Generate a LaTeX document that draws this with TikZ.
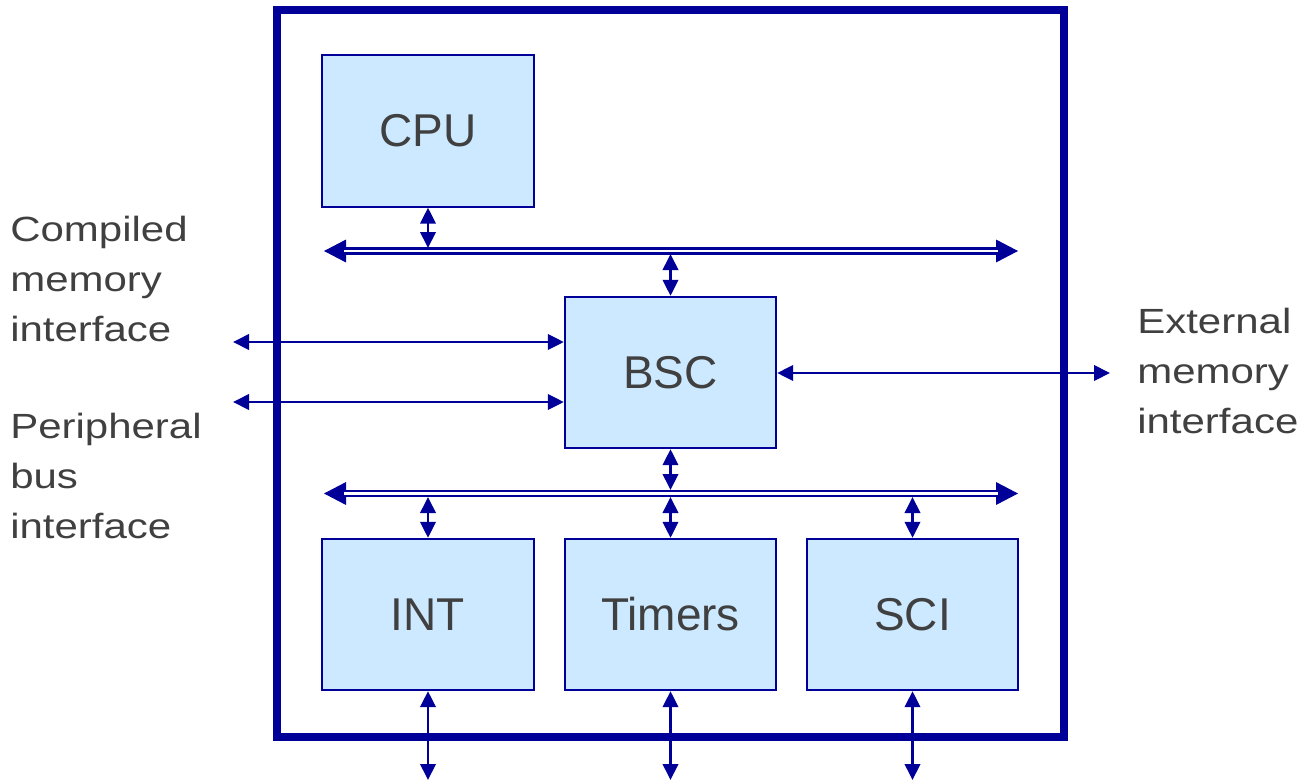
\documentclass[tikz,border=0pt]{standalone}
\usepackage{fontspec}
\usepackage{graphicx}
\setmainfont{Liberation Sans}
\usetikzlibrary{arrows.meta}
\definecolor{navy}{HTML}{000099}
\definecolor{boxfill}{HTML}{CCE9FF}
\definecolor{txt}{HTML}{404040}
\newcommand{\wide}[1]{\scalebox{1.2}[1]{#1}}
\tikzset{
  block/.style={draw=navy, line width=1.5pt, fill=boxfill, text=txt,
    minimum width=158.5pt, minimum height=113.5pt, inner sep=0pt,
    font=\fontsize{34.5pt}{40pt}\selectfont},
  small/.style={navy, line width=2pt,
    {Triangle[length=12pt,width=11.5pt]}-{Triangle[length=12pt,width=11.5pt]}},
  bustip/.style={navy, line width=0.8pt,
    {Triangle[length=16.5pt,width=17pt]}-{Triangle[length=16.5pt,width=17pt]}},
  busline/.style={navy, line width=2pt, double=white, double distance=1.6pt,
    shorten <=15pt, shorten >=15pt},
  side/.style={text=txt, anchor=north west, inner sep=0pt, align=left,
    font=\fontsize{26.25pt}{37.5pt}\selectfont},
  frame/.style={navy, line width=6pt}
}
\begin{document}
\begin{tikzpicture}[x=0.75pt, y=-0.75pt]
\useasboundingbox (0,0) rectangle (1316,782);
% outer frame
\draw[frame] (277,10) rectangle (1064,737);
% blocks
\node[block] (cpu) at (428,131) {CPU};
\node[block] (bsc) at (670.5,372.5) {BSC};
\node[block] (int) at (428,614.5) {INT};
\node[block] (tim) at (670.5,614.5) {Timers};
\node[block] (sci) at (912.5,614.5) {SCI};
% bus coordinates
\coordinate (b1w) at (324,251);
\coordinate (b1e) at (1018,251);
\coordinate (b2w) at (324,493.5);
\coordinate (b2e) at (1018,493.5);
% buses
\draw[bustip] (b1w) -- (b1e);
\draw[busline] (b1w) -- (b1e);
\draw[bustip] (b2w) -- (b2e);
\draw[busline] (b2w) -- (b2e);
% bus taps
\coordinate (b1cpu) at (428,248);
\coordinate (b1bsc) at (670.5,254);
\coordinate (b2bsc) at (670.5,490);
\coordinate (b2int) at (428,497);
\coordinate (b2tim) at (670.5,497);
\coordinate (b2sci) at (912.5,497);
\draw[small] (cpu.south) -- (b1cpu);
\draw[small] (b1bsc) -- (bsc.north);
\draw[small] (bsc.south) -- (b2bsc);
\draw[small] (b2int) -- (int.north);
\draw[small] (b2tim) -- (tim.north);
\draw[small] (b2sci) -- (sci.north);
% external connections
\coordinate (cmi) at (233,342);
\coordinate (pbi) at (233,402);
\coordinate (emi) at (1110,373);
\coordinate (into) at (428,780);
\coordinate (timo) at (670.5,780);
\coordinate (scio) at (912.5,780);
\draw[small] (cmi) -- (bsc.west |- cmi);
\draw[small] (pbi) -- (bsc.west |- pbi);
\draw[small] (bsc.east |- emi) -- (emi);
\draw[small] (int.south) -- (into);
\draw[small] (tim.south) -- (timo);
\draw[small] (sci.south) -- (scio);
% side labels
\node[side] (lcmi) at (10,215.5) {\wide{Compiled}\\\wide{memory}\\\wide{interface}};
\node[side] (lpbi) at (10,413) {\wide{Peripheral}\\\wide{bus}\\\wide{interface}};
\node[side] (lemi) at (1137,307.5) {\wide{External}\\\wide{memory}\\\wide{interface}};
\end{tikzpicture}
\end{document}
